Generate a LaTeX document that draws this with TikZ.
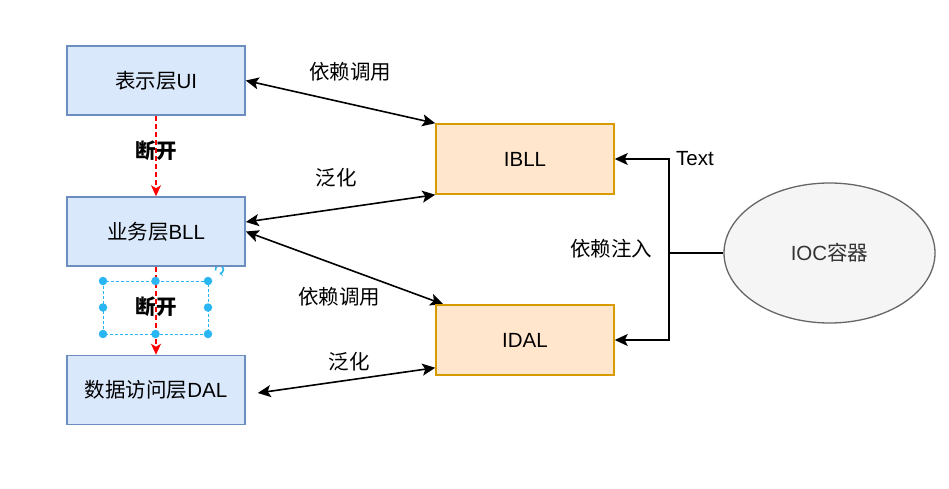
\documentclass[tikz,border=0pt]{standalone}
\usepackage{fontspec}
\setmainfont{Liberation Sans}
\newfontfamily\cjk{Noto Sans CJK SC}
\usetikzlibrary{arrows.meta,shapes.geometric}
\definecolor{layerfill}{HTML}{DAE8FC}
\definecolor{layerdraw}{HTML}{6C8EBF}
\definecolor{ifacefill}{HTML}{FFE6CC}
\definecolor{ifacedraw}{HTML}{D79B00}
\definecolor{iocfill}{HTML}{F5F5F5}
\definecolor{iocdraw}{HTML}{666666}
\definecolor{ioctext}{HTML}{333333}
\definecolor{handleblue}{HTML}{29B6F2}
\pgfdeclarelayer{edgelayer}
\pgfdeclarelayer{nodelayer}
\pgfsetlayers{edgelayer,nodelayer,main}
\tikzstyle{none}=[inner sep=0pt]
\tikzstyle{layer}=[rectangle, fill=layerfill, draw=layerdraw, line width=1.5pt, minimum width=178pt, minimum height=69pt, inner sep=0pt]
\tikzstyle{iface}=[rectangle, fill=ifacefill, draw=ifacedraw, line width=1.5pt, minimum width=178pt, minimum height=70pt, inner sep=0pt]
\tikzstyle{container}=[ellipse, fill=iocfill, draw=iocdraw, text=ioctext, line width=1.3pt, minimum width=211pt, minimum height=140pt, inner sep=0pt]
\tikzstyle{call}=[draw=black, line width=1.6pt, >={Stealth[length=13pt,width=12pt,inset=3pt]}, <->]
\tikzstyle{inject}=[draw=black, line width=1.6pt, >={Stealth[length=13pt,width=12pt,inset=3pt]}, ->]
\tikzstyle{cut}=[draw=red, line width=1.3pt, dash pattern=on 5pt off 3pt, >={Stealth[length=11pt,width=10pt,inset=3pt]}, ->]
\tikzstyle{handle}=[circle, fill=handleblue, inner sep=0pt, minimum size=8.5pt]
\tikzstyle{selbox}=[draw=handleblue, line width=1pt, dash pattern=on 3pt off 2pt]
\tikzstyle{turn}=[draw=handleblue, line width=1.6pt]

\begin{document}
\begin{tikzpicture}[x=1pt, y=-1pt, font=\fontsize{20.5pt}{24pt}\selectfont]
			\useasboundingbox (0, 0) rectangle (949, 489);
			\begin{pgfonlayer}{nodelayer}
			\node [style=layer] (0) at (156, 80.5) {{\cjk 表示层}UI};
			\node [style=layer] (1) at (156, 231.5) {{\cjk 业务层}BLL};
			\node [style=layer] (2) at (156, 390) {{\cjk 数据访问层}DAL};
			\node [style=iface] (3) at (525, 159) {IBLL};
			\node [style=iface] (4) at (525, 340) {IDAL};
			\node [style=container] (5) at (829.5, 253) {IOC{\cjk 容器}};
			\coordinate (6) at (669, 253);
			\node [style=none] (7) at (350, 72) {\cjk 依赖调用};
			\node [style=none] (8) at (336, 178) {\cjk 泛化};
			\node [style=none] (9) at (339, 297) {\cjk 依赖调用};
			\node [style=none] (10) at (349, 362) {\cjk 泛化};
			\node [style=none] (11) at (156, 151) {\cjk\bfseries 断开};
			\node [style=none] (12) at (156, 307) {\cjk\bfseries 断开};
			\node [style=none] (13) at (695, 159) {Text};
			\node [style=none] (14) at (611, 249) {\cjk 依赖注入};
			\node [style=handle] (15) at (103, 281) {};
			\node [style=handle] (16) at (155.5, 281) {};
			\node [style=handle] (17) at (208, 281) {};
			\node [style=handle] (18) at (103, 307.5) {};
			\node [style=handle] (19) at (208, 307.5) {};
			\node [style=handle] (20) at (103, 334) {};
			\node [style=handle] (21) at (155.5, 334) {};
			\node [style=handle] (22) at (208, 334) {};
			\coordinate (23) at (219.5, 269.5);
			\end{pgfonlayer}
			\begin{pgfonlayer}{edgelayer}
			\draw [style=call] (0.east) to (3.north west);
			\draw [style=call] ([yshift=9.5pt]1.east) to (3.south west);
			\draw [style=call] (1.east) to ([xshift=8pt]4.north west);
			\draw [style=call] ([xshift=12pt, yshift=-3pt]2.east) to ([yshift=8pt]4.south west);
			\draw [style=cut] (0.south) to (1.north);
			\draw [style=cut] (1.south) to (2.north);
			\draw [draw=black, line width=1.6pt] (5.west) to (6);
			\draw [style=inject] (6) |- (3.east);
			\draw [style=inject] (6) |- (4.east);
			\draw [style=selbox] (15.center) rectangle (22.center);
			\draw [style=turn, -{Stealth[length=3.5pt,width=5pt]}] ([shift={(-4pt,-1pt)}]23) arc [start angle=-165, end angle=-450, radius=4pt];
			\end{pgfonlayer}
			\end{tikzpicture}
\end{document}
